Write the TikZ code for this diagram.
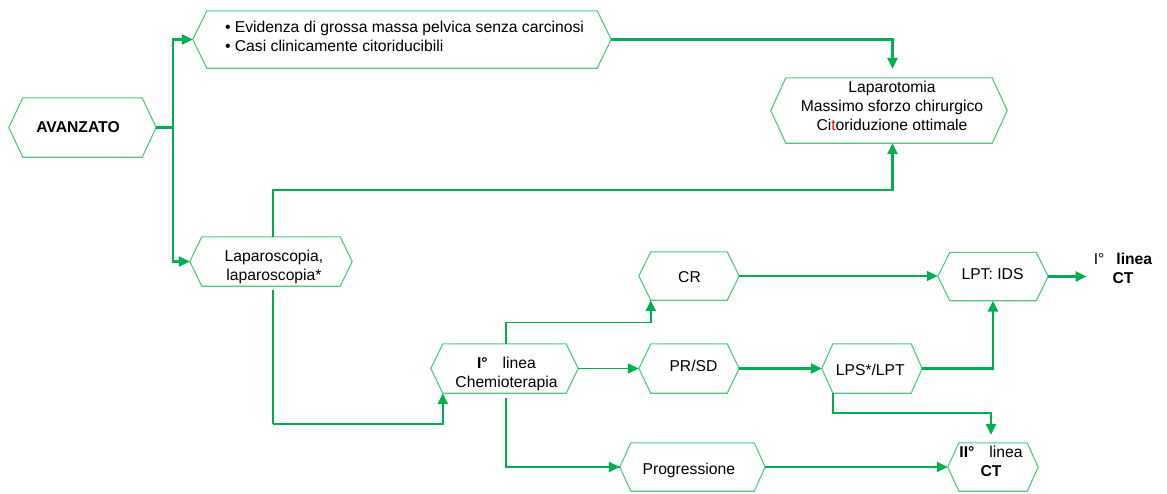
\documentclass[tikz,border=0pt]{standalone}
\usepackage{fontspec}
\setmainfont{Liberation Sans}
\usetikzlibrary{arrows.meta}
\definecolor{lc}{HTML}{00B050}
\definecolor{bc}{RGB}{80,200,125}
\tikzset{
  hexshape/.style={rectangle, inner sep=0pt, draw=none},
  boxline/.style={draw=bc, line width=1.1pt, line join=miter},
  boxtext/.style={inner sep=0pt, align=center, font=\fontsize{15.7pt}{19pt}\selectfont},
  conn/.style={draw=lc, line width=2.4pt},
  medconn/.style={draw=lc, line width=1.7pt},
  thinconn/.style={draw=lc, line width=1.3pt},
  arr/.style={-{Triangle[length=11pt,width=10pt]}},
}
\newcommand\hexnode[9]{%
  \node[hexshape, minimum width=#4pt, minimum height=#5pt] (#1) at (#2,#3) {};
  \draw[boxline] (#1.west) -- ([xshift=#6pt]#1.north west) -- ([xshift=-#6pt]#1.north east) -- (#1.east) -- ([xshift=-#6pt]#1.south east) -- ([xshift=#6pt]#1.south west) -- cycle;
  \node[boxtext] (#1-t) at (#7,#8) {#9};}
\begin{document}
\begin{tikzpicture}[x=1pt,y=-1pt]
\useasboundingbox[fill=white] (0,0) rectangle (1167,493);
\hexnode{av}{82.5}{127.5}{147}{59}{14}{78}{127}{\textbf{AVANZATO}}
\hexnode{top}{402}{39.5}{418}{57}{14}{404.5}{37.7}{\begin{tabular}{@{}l@{}}• Evidenza di grossa massa pelvica senza carcinosi\\• Casi clinicamente citoriducibili\end{tabular}}
\hexnode{lapt}{889}{110.5}{236}{65}{15}{892}{105.5}{Laparotomia\\Massimo sforzo chirurgico\\Ci\textcolor{red}{t}oriduzione ottimale}
\hexnode{lapsc}{271}{261.5}{162}{49}{12}{274}{266.5}{Laparoscopia,\\laparoscopia*}
\hexnode{chemo}{504.5}{368.5}{147}{49}{12}{506.5}{374}{\textbf{I°}\hspace{15pt}linea\\Chemioterapia}
\hexnode{cr}{689}{276}{100}{48}{12}{689.5}{277.5}{CR}
\hexnode{prsd}{689}{368.5}{100}{49}{12}{693.5}{366}{PR/SD}
\hexnode{lpt}{993}{276.5}{110}{48}{12}{992.5}{274.5}{LPT: IDS}
\hexnode{lps}{872}{368.5}{100}{49}{11}{870.3}{369.5}{LPS*/LPT}
\hexnode{prog}{692.5}{467}{145}{48}{11}{688.8}{470}{Progressione}
\hexnode{ii}{993}{467}{90}{48}{11}{991}{461}{\textbf{II°}\hspace{15pt}linea\\\textbf{CT}}
\node[boxtext, inner xsep=7pt] (ict) at (1123,268) {I°\hspace{12pt}\textbf{linea}\\\textbf{CT}};
% connectors
\draw[conn,arr] (av.east) -- ++(17,0) |- (top.west);
\draw[conn,arr] (av.east) -- ++(17,0) |- (lapsc.west);
\draw[conn,arr,shorten >=9pt] (top.east) -| ([xshift=3.5pt]lapt.north);
\draw[conn,arr] ([xshift=2pt]lapsc.north) -- ++(0,-47) -| ([xshift=3.5pt]lapt.south);
\draw[thinconn] ([xshift=2pt,yshift=-4pt]lapsc.south) -- ++(0,134) coordinate (k1);
\draw[conn,arr] (k1) -| ([xshift=12pt]chemo.south west);
\coordinate (crb) at ([xshift=12pt]cr.south west);
\draw[thinconn] ([xshift=1.5pt]chemo.north) -- ++(0,-21) coordinate (k2) -| (crb);
\draw[conn,arr] (k2 -| crb) -- (crb);
\draw[thinconn,arr] (chemo.east) -- (prsd.west);
\coordinate (cs) at ([xshift=1.5pt,yshift=-5pt]chemo.south);
\draw[thinconn] (cs) |- (prog.west);
\draw[conn,arr] (cs |- prog.west) -- (prog.west);
\draw[medconn,arr] (cr.east) -- (cr.east -| lpt.west);
\draw[conn,arr] (prsd.east) -- (lps.west);
\draw[conn,arr] (lps.east) -| (lpt.south);
\draw[conn,arr,shorten >=8pt] ([xshift=11pt]lps.south west) -- ++(0,20) -| ([xshift=-2pt]ii.north);
\draw[medconn,arr] (prog.east) -- (ii.west);
\draw[conn,arr] (lpt.east) -- (lpt.east -| ict.west);
\end{tikzpicture}
\end{document}
